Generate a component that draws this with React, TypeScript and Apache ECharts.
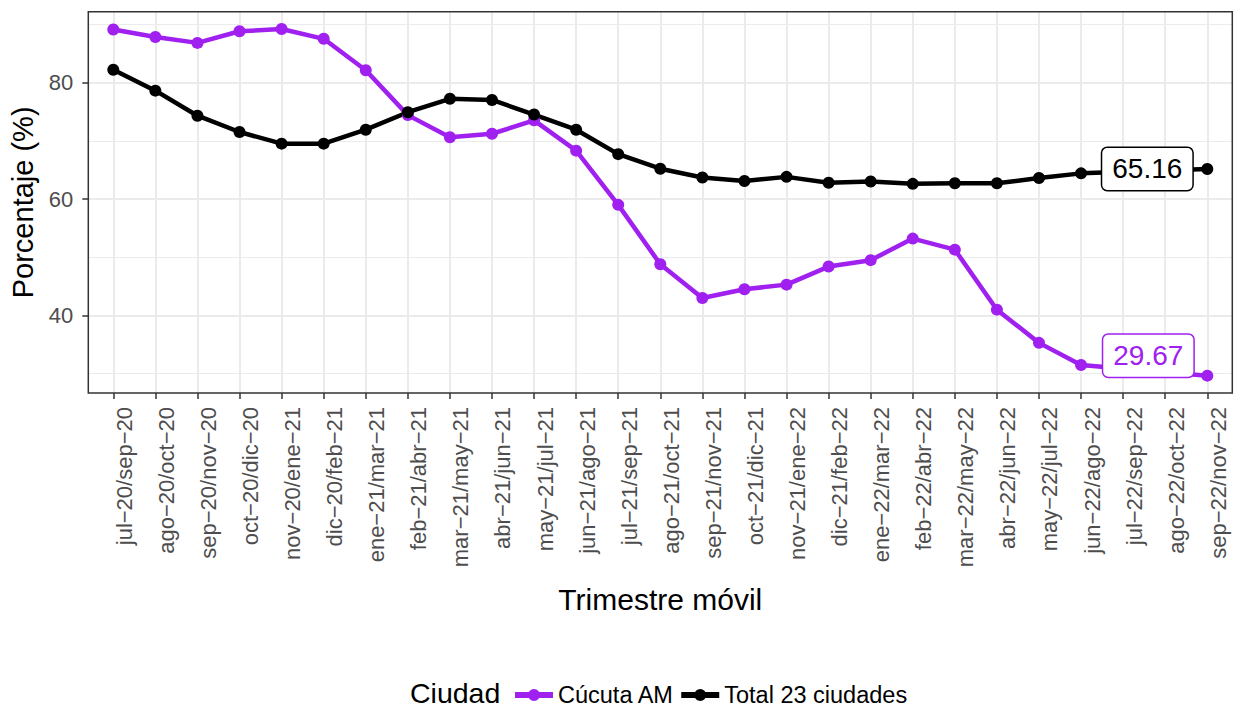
import React, { useEffect, useRef } from "react";
import * as echarts from "echarts";

const categories = [
  "jul−20/sep−20", "ago−20/oct−20", "sep−20/nov−20", "oct−20/dic−20", "nov−20/ene−21",
  "dic−20/feb−21", "ene−21/mar−21", "feb−21/abr−21", "mar−21/may−21", "abr−21/jun−21",
  "may−21/jul−21", "jun−21/ago−21", "jul−21/sep−21", "ago−21/oct−21", "sep−21/nov−21",
  "oct−21/dic−21", "nov−21/ene−22", "dic−21/feb−22", "ene−22/mar−22", "feb−22/abr−22",
  "mar−22/may−22", "abr−22/jun−22", "may−22/jul−22", "jun−22/ago−22", "jul−22/sep−22",
  "ago−22/oct−22", "sep−22/nov−22",
];

const cucutaName = "Cúcuta AM";
const cucuta: (number | null)[] = [
  89.1, 87.8, 86.8, 88.8, 89.18, 87.5, 82.1, 74.4, 70.6, 71.2, 73.5, 68.3, 59.0, 48.8,
  43.0, 44.5, 45.3, 48.4, 49.5, 53.2, 51.3, 41.0, 35.3, 31.5, null, null, 29.67,
];

const totalName = "Total 23 ciudades";
const total: (number | null)[] = [
  82.2, 78.6, 74.3, 71.5, 69.5, 69.5, 71.9, 74.9, 77.2, 77.0, 74.5, 71.9, 67.7, 65.2,
  63.7, 63.1, 63.8, 62.8, 63.0, 62.6, 62.7, 62.7, 63.6, 64.4, null, null, 65.16,
];

const yMajorTicks = [40, 60, 80];

const PURPLE = "#A020F0";
const BLACK = "#000000";
const FONT = "'Liberation Sans', Arial, Helvetica, sans-serif";
const LEGEND_ICON = "path://M0,3H38V9H0Z M13,6a6,6 0 1,1 12,0a6,6 0 1,1 -12,0Z";

const allVals = [...cucuta, ...total].filter((v): v is number => v != null);
const lo = Math.min(...allVals);
const hi = Math.max(...allVals);
const pad = (hi - lo) * 0.05;
const yMin = lo - pad;
const yMax = hi + pad;

function buildData(values: (number | null)[], color: string, offset: number[]) {
  const last = values.length - 1;
  return values.map((v, i) => {
    if (i !== last || v == null) return v;
    return {
      value: v,
      label: {
        show: true,
        position: "inside",
        offset,
        formatter: () => v.toFixed(2),
        fontSize: 28,
        fontFamily: FONT,
        color,
        backgroundColor: "#ffffff",
        borderColor: color,
        borderWidth: 1.5,
        borderRadius: 5,
        padding: [7, 10, 6, 10],
        lineHeight: 29,
      },
    };
  });
}

export default function App() {
  const ref = useRef<HTMLDivElement>(null);
  useEffect(() => {
    document.body.style.margin = "0";
    const chart = echarts.init(ref.current!, null, { renderer: "svg" });
    const panel = { left: 88.3, right: 3.7, top: 11.7, bottom: 316 };
    const option: any = {
      animation: false,
      backgroundColor: "#ffffff",
      textStyle: { fontFamily: FONT },
      grid: [
        { left: panel.left, right: panel.right, top: panel.top, bottom: panel.bottom, containLabel: false },
        { left: 113.3, right: 28.7, top: panel.top, bottom: panel.bottom, containLabel: false },
      ],
      xAxis: [
        { gridIndex: 0, type: "value", min: 0, max: 1, show: false },
        {
          gridIndex: 1,
          type: "category",
          data: categories,
          boundaryGap: false,
          axisLine: { show: false },
          axisTick: { show: true, interval: 0, length: 6, lineStyle: { color: "#333333", width: 1.5 } },
          axisLabel: {
            rotate: 90,
            interval: 0,
            fontSize: 22,
            color: "#4d4d4d",
            margin: 14,
            verticalAlign: "top",
            fontFamily: FONT,
          },
          splitLine: { show: true, interval: 0, lineStyle: { color: "#ebebeb", width: 2 } },
          name: "Trimestre móvil",
          nameLocation: "middle",
          nameGap: 191,
          nameTextStyle: { fontSize: 30, color: "#000000", fontFamily: FONT },
        },
      ],
      yAxis: [
        {
          gridIndex: 0,
          type: "value",
          min: yMin,
          max: yMax,
          minInterval: 20,
          maxInterval: 20,
          axisLine: { show: false },
          axisTick: { show: true, length: 6, customValues: yMajorTicks, lineStyle: { color: "#333333", width: 1.5 } },
          axisLabel: {
            customValues: yMajorTicks,
            fontSize: 22,
            color: "#4d4d4d",
            margin: 15,
            fontFamily: FONT,
          },
          splitLine: { show: true, lineStyle: { color: "#ebebeb", width: 2 } },
          minorTick: { show: false, splitNumber: 2 },
          minorSplitLine: { show: true, lineStyle: { color: "#ebebeb", width: 1.1 } },
          name: "Porcentaje (%)",
          nameLocation: "middle",
          nameGap: 47,
          nameTextStyle: { fontSize: 29, color: "#000000", fontFamily: FONT },
        },
        { gridIndex: 1, type: "value", min: yMin, max: yMax, show: false },
      ],
      legend: {
        left: 510,
        top: 678,
        icon: LEGEND_ICON,
        itemWidth: 38,
        itemHeight: 12,
        itemGap: 7,
        itemStyle: { borderWidth: 0 },
        textStyle: { fontSize: 23.5, color: "#000000", fontFamily: FONT, lineHeight: 24 },
        data: [cucutaName, totalName],
      },
      graphic: [
        {
          type: "text",
          silent: true,
          style: { x: 410, y: 693, text: "Ciudad", fontSize: 28.5, fill: "#000000", fontFamily: FONT, verticalAlign: "middle" },
        },
        {
          type: "rect",
          silent: true,
          z: 100,
          shape: { x: 88.3, y: 11.7, width: 1144, height: 381.3 },
          style: { fill: "none", stroke: "#333333", lineWidth: 1.5 },
        },
      ],
      series: [
        {
          name: cucutaName,
          type: "line",
          xAxisIndex: 1,
          yAxisIndex: 1,
          data: buildData(cucuta, PURPLE, [-59, -20]),
          connectNulls: true,
          symbol: "circle",
          symbolSize: 12,
          showAllSymbol: true,
          clip: false,
          lineStyle: { width: 4.5, color: PURPLE },
          itemStyle: { color: PURPLE },
          emphasis: { disabled: true },
        },
        {
          name: totalName,
          type: "line",
          xAxisIndex: 1,
          yAxisIndex: 1,
          data: buildData(total, BLACK, [-60, 0]),
          connectNulls: true,
          symbol: "circle",
          symbolSize: 12,
          showAllSymbol: true,
          clip: false,
          lineStyle: { width: 4.5, color: BLACK },
          itemStyle: { color: BLACK },
          emphasis: { disabled: true },
        },
      ],
    };
    chart.setOption(option);
    return () => chart.dispose();
  }, []);
  return <div ref={ref} style={{ width: 1236, height: 709 }} />;
}
